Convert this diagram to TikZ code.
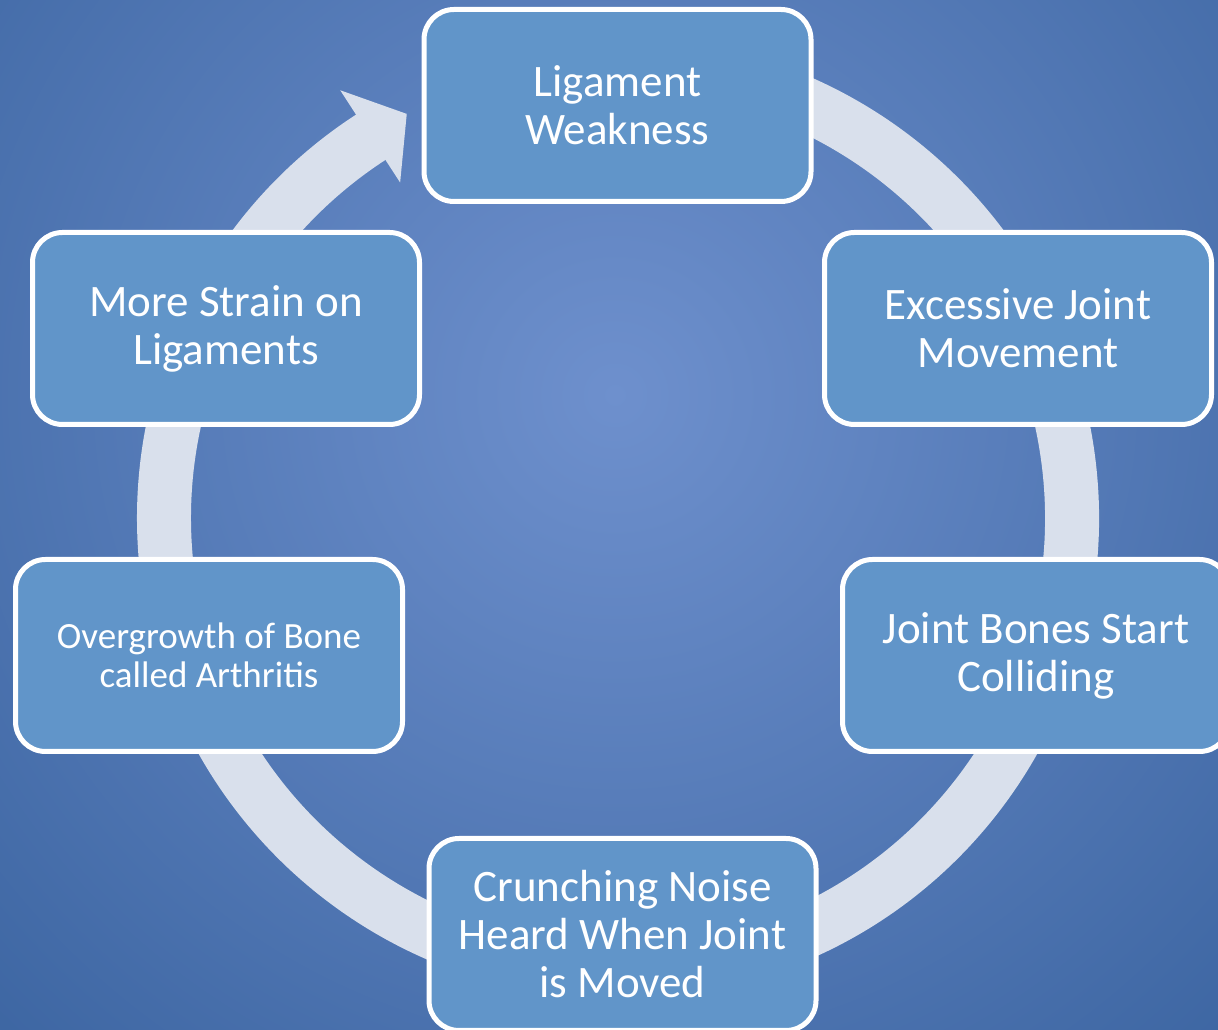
\documentclass[tikz,border=0pt]{standalone}
\usepackage{fontspec}
\setmainfont{Carlito}
\definecolor{bgin}{HTML}{6E90CD}
\definecolor{bgout}{HTML}{27538F}
\definecolor{ringgray}{HTML}{D9E0EC}
\definecolor{boxblue}{HTML}{6195C9}

\begin{document}
\begin{tikzpicture}[x=1pt,y=1pt,
        stage/.style={draw=white,line width=5pt,fill=boxblue,rounded corners=30pt,
            minimum width=387pt,minimum height=192pt,text=white,align=center,
            font=\fontsize{45}{48}\selectfont},
        ring/.style={draw=ringgray,line width=54pt}]
        \useasboundingbox (0,0) rectangle (1218,1030);
        % background
        \begin{scope}
            \clip (0,0) rectangle (1218,1030);
            \shade[inner color=bgin,outer color=bgout] (-685,-665) rectangle (1915,1935);
        \end{scope}
        % cycle ring with arrow head
        \coordinate (c) at (618,512);
        \draw[ring] ([shift={(100:454)}]c) arc[start angle=100,end angle=-237.5,radius=454];
        \fill[ringgray] ([shift={(123:510)}]c)--([shift={(117.6:456)}]c)--([shift={(123:400)}]c)--cycle;
        % stages
        \node[stage] (weak) at (617.5,924.5) {Ligament\\Weakness};
        \node[stage] (excess) at (1018,701.5) {Excessive Joint\\Movement};
        \node[stage] (collide) at (1036,374.5) {Joint Bones Start\\Colliding};
        \node[stage] (crunch) at (622.5,95.5) {Crunching Noise\\Heard When Joint\\is Moved};
        \node[stage,font=\fontsize{37}{39}\selectfont] (growth) at (209,374.5) {Overgrowth of Bone\\called Arthritis};
        \node[stage] (strain) at (226,701.5) {More Strain on\\Ligaments};
    \end{tikzpicture}
\end{document}
